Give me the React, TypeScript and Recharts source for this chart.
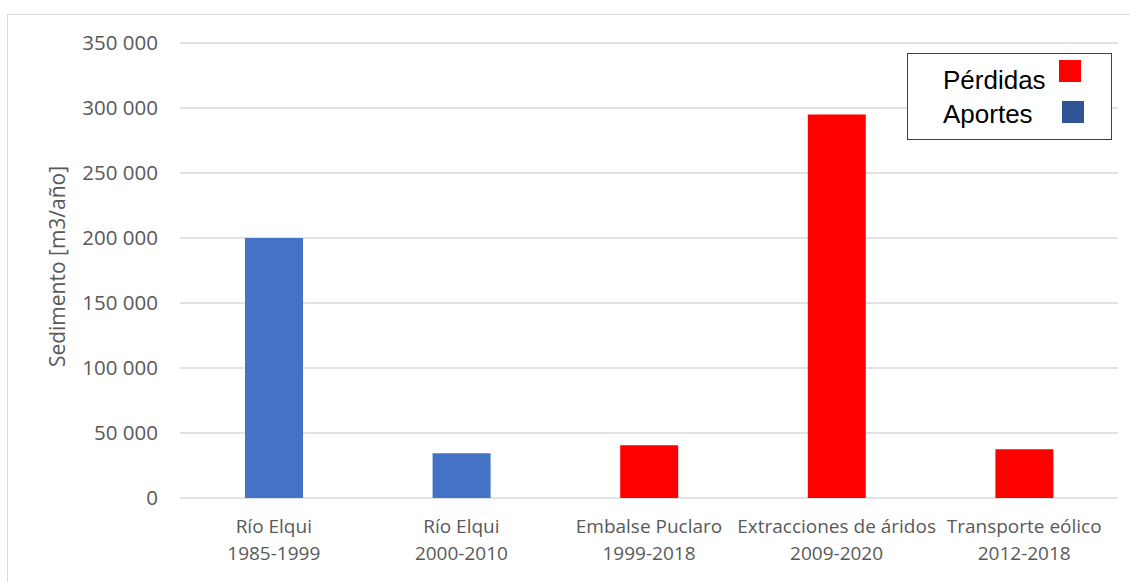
import React from "react";
import { BarChart, Bar, Cell, XAxis, YAxis, CartesianGrid } from "recharts";

// Sediment balance, one bar per source/sink
const placeNames = ["Río Elqui", "Río Elqui", "Embalse Puclaro", "Extracciones de áridos", "Transporte eólico"];
const periods = ["1985-1999", "2000-2010", "1999-2018", "2009-2020", "2012-2018"];
const sediment = [200000, 34500, 40500, 295000, 37500];
const balanceType = ["Aportes", "Aportes", "Pérdidas", "Pérdidas", "Pérdidas"];
const yTicks = [0, 50000, 100000, 150000, 200000, 250000, 300000, 350000];

const BAR_COLORS: Record<string, string> = { Aportes: "#4472C4", "Pérdidas": "#FF0000" };
const LEGEND_ITEMS = [
  { name: "Pérdidas", color: "#FF0000" },
  { name: "Aportes", color: "#2F5597" },
];

const data = placeNames.map((name, i) => ({
  name,
  period: periods[i],
  value: sediment[i],
  kind: balanceType[i],
}));

const AXIS_FONT = "'Open Sans', sans-serif";
const AXIS_COLOR = "#595959";

const fmtThousands = (v: number) => String(v).replace(/\B(?=(\d{3})+(?!\d))/g, " ");

function CategoryTick({ x, y, payload, index }: any) {
  const row = data[index] ?? data.find((d) => d.name === payload.value);
  return (
    <text x={x} y={y} textAnchor="middle" fill={AXIS_COLOR} fontFamily={AXIS_FONT} fontSize={19}>
      <tspan x={x} dy={35}>{row?.name}</tspan>
      <tspan x={x} dy={27}>{row?.period}</tspan>
    </text>
  );
}

// boxed legend in the upper right corner of the plot
function BoxLegend() {
  return (
    <div
      style={{
        position: "absolute",
        left: 907,
        top: 53,
        width: 203,
        height: 85,
        border: "1.5px solid #404040",
        background: "#fff",
        fontFamily: "'Liberation Sans', Arial, sans-serif",
        fontSize: 26,
        color: "#000",
      }}
    >
      {LEGEND_ITEMS.map((item, i) => (
        <React.Fragment key={item.name}>
          <span style={{ position: "absolute", left: 35, top: 13 + i * 34, lineHeight: "26px" }}>{item.name}</span>
          <span
            style={{
              position: "absolute",
              left: 151 + i * 3,
              top: 6 + i * 41,
              width: 22,
              height: 22,
              background: item.color,
            }}
          />
        </React.Fragment>
      ))}
    </div>
  );
}

export default function App() {
  return (
    <div
      style={{
        position: "absolute",
        left: 0,
        top: 0,
        width: 1130,
        height: 582,
        overflow: "hidden",
        background: "#fff",
      }}
    >
      <div
        style={{
          position: "absolute",
          left: 7,
          top: 14,
          width: 1140,
          height: 600,
          border: "1px solid #d9d9d9",
        }}
      />
      <div style={{ position: "absolute", left: 0, top: 0 }}>
        <BarChart width={1130} height={582} data={data} margin={{ top: 43, right: 12, left: 0, bottom: 0 }} barSize={58}>
          <CartesianGrid vertical={false} stroke="#d9d9d9" strokeWidth={1.5} />
          <XAxis
            dataKey="name"
            axisLine={false}
            tickLine={false}
            tickSize={0}
            tickMargin={0}
            height={84}
            interval={0}
            tick={<CategoryTick />}
          />
          <YAxis
            width={180}
            domain={[0, 350000]}
            ticks={yTicks}
            interval={0}
            axisLine={false}
            tickLine={false}
            tickSize={0}
            tickMargin={22}
            tickFormatter={fmtThousands}
            tick={{ fill: AXIS_COLOR, fontSize: 20.5, fontFamily: AXIS_FONT }}
            label={{
              value: "Sedimento [m3/año]",
              angle: -90,
              position: "center",
              dx: -32,
              dy: -4,
              fill: AXIS_COLOR,
              fontSize: 21,
              fontFamily: AXIS_FONT,
            }}
          />
          <Bar dataKey="value" isAnimationActive={false}>
            {data.map((d) => (
              <Cell key={d.name + d.period} fill={BAR_COLORS[d.kind]} />
            ))}
          </Bar>
        </BarChart>
      </div>
      <BoxLegend />
    </div>
  );
}
